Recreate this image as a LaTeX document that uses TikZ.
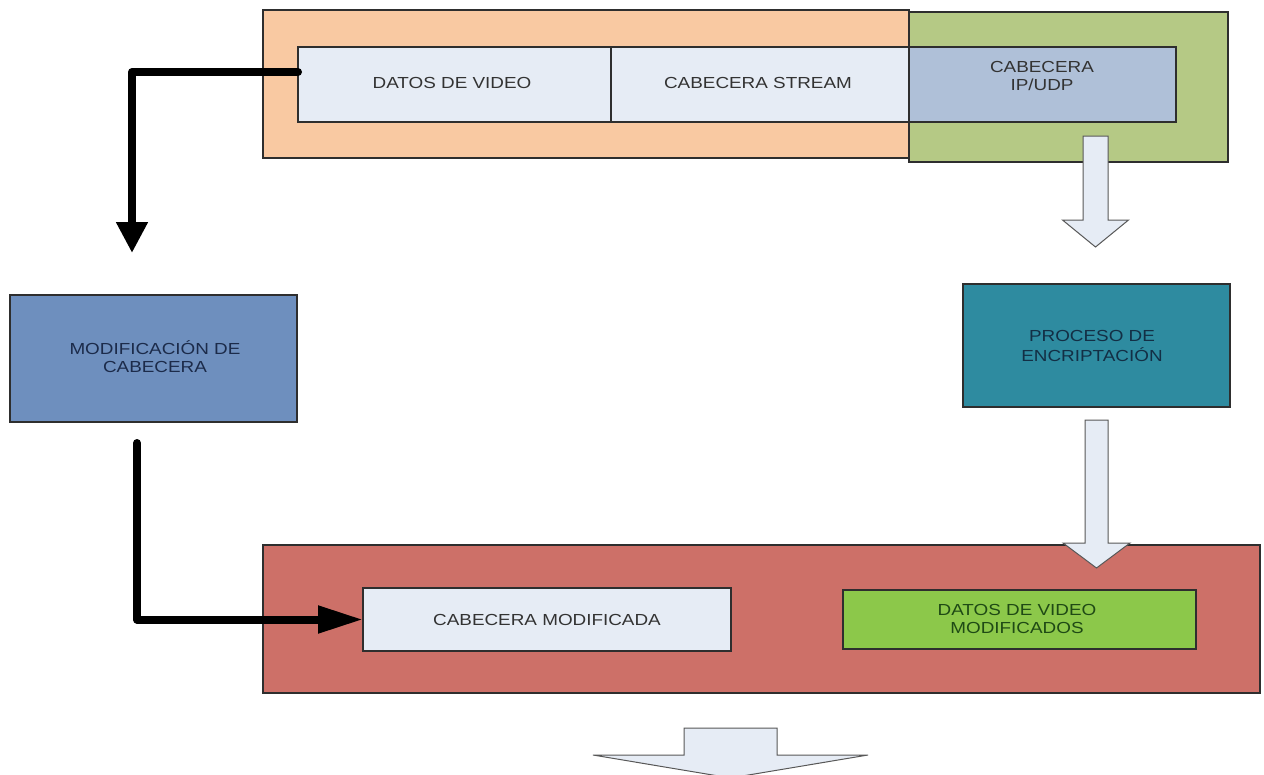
\documentclass[tikz,border=0pt]{standalone}
\usepackage{fontspec}
\setmainfont{Liberation Sans}
\usetikzlibrary{arrows.meta,calc}

\definecolor{peach}{HTML}{F9C9A2}
\definecolor{olive}{HTML}{B5C985}
\definecolor{paleblue}{HTML}{E6ECF5}
\definecolor{greyblue}{HTML}{AFC0D8}
\definecolor{steel}{HTML}{6E8FBE}
\definecolor{teal}{HTML}{2E8BA0}
\definecolor{brick}{HTML}{CD7068}
\definecolor{lime}{HTML}{8CC84A}
\definecolor{edge}{HTML}{2E2E2E}
\definecolor{txtgrey}{HTML}{333333}
\definecolor{txtnavy}{HTML}{1C2B4A}
\definecolor{txtteal}{HTML}{132F45}
\definecolor{txtgreen}{HTML}{1F4A15}

% wide label text, two lines allowed with \\
\newcommand\widelabel[1]{\scalebox{1.18}[1]{\begin{tabular}{@{}c@{}}#1\end{tabular}}}

% downward block arrow: centre x, top, head base, tip, shaft half width, head half width
\newcommand\blockdown[6]{%
  \draw[blockarrow] (#1-#5,#2) -- (#1+#5,#2) -- (#1+#5,#3) -- (#1+#6,#3)
    -- (#1,#4) -- (#1-#6,#3) -- (#1-#5,#3) -- cycle;}

\tikzset{
  box/.style={draw=edge, line width=1.2pt, inner sep=0pt, outer sep=0pt},
  lbl/.style={inner sep=0pt, font=\fontsize{16}{17.5}\selectfont, text=txtgrey},
  blockarrow/.style={draw=edge!80, line width=1pt, fill=paleblue, line join=miter},
  flow/.style={line width=8pt, draw=black, line cap=round, line join=round},
}

\begin{document}
\begin{tikzpicture}[x=1pt, y=-1pt]
\useasboundingbox[fill=white] (0,0) rectangle (1264,774);

% incoming packet
\node[box, fill=olive, minimum width=319pt, minimum height=150pt] (ipwrap) at (1068.5,87) {};
\node[box, fill=peach, minimum width=646pt, minimum height=148pt] (pkt) at (586,84) {};
\node[box, fill=paleblue, minimum width=313pt, minimum height=75pt] (datos) at (454.5,84.5) {};
\node[box, fill=paleblue, minimum width=298pt, minimum height=75pt] (stream) at (760,84.5) {};
\node[box, fill=greyblue, minimum width=267pt, minimum height=75pt] (ipudp) at (1042.5,84.5) {};
\node[lbl] (datos-t) at (452,85) {\widelabel{DATOS DE VIDEO}};
\node[lbl] (stream-t) at (758,85) {\widelabel{CABECERA STREAM}};
\node[lbl] (ipudp-t) at (1042,78) {\widelabel{CABECERA\\IP/UDP}};

% processing stages
\node[box, fill=steel, minimum width=287pt, minimum height=127pt] (modif) at (153.5,358.5) {};
\node[lbl, text=txtnavy] (modif-t) at (155,359) {\widelabel{MODIFICACIÓN DE\\CABECERA}};
\node[box, fill=teal, minimum width=267pt, minimum height=123pt] (proceso) at (1096.5,345.5) {};
\node[lbl, text=txtteal] (proceso-t) at (1092,348) {\widelabel{PROCESO DE\\ENCRIPTACIÓN}};

% outgoing packet
\node[box, fill=brick, minimum width=997pt, minimum height=148pt] (salida) at (761.5,619) {};
\node[box, fill=paleblue, minimum width=368pt, minimum height=63pt] (cabmod) at (547,619.5) {};
\node[box, fill=lime, minimum width=353pt, minimum height=59pt] (datmod) at (1019.5,619.5) {};
\node[lbl] (cabmod-t) at (547,622) {\widelabel{CABECERA MODIFICADA}};
\node[lbl, text=txtgreen] (datmod-t) at (1017,621) {\widelabel{DATOS DE VIDEO\\MODIFICADOS}};

% block arrows
\blockdown{1095.5}{136}{220}{247}{12.5}{33}
\blockdown{1096.5}{420}{543}{568}{11.5}{33.5}
\blockdown{730.5}{728}{755}{778}{46.5}{137.5}

% header path
\coordinate (turn1) at (132,72);
\coordinate (modin) at (132,253);
\coordinate (modout) at (137,443);
\draw[flow, -{Triangle[length=31pt,width=30pt]}] ($(datos.west)+(0,-12.5)$) -- (turn1) -- (modin);
\draw[flow, -{Triangle[length=45pt,width=26pt]}] (modout) |- (cabmod.west);
\end{tikzpicture}
\end{document}
